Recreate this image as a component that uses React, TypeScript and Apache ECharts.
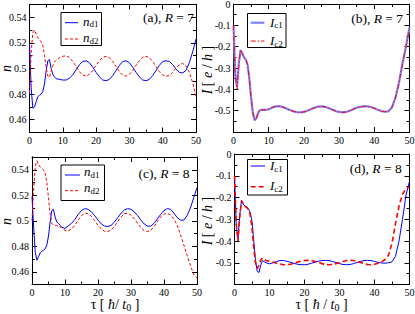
import React, { useEffect, useRef } from 'react';
import * as echarts from 'echarts';

// time axis (tau in units of hbar / t0)
const T = [0, 0.5, 1, 1.5, 2, 2.5, 3, 3.5, 4, 4.5, 5, 5.5, 6, 6.5, 7, 7.5, 8,
  9, 10, 11, 12, 13, 14, 15, 16, 17, 18, 19, 20, 21, 22, 23, 24, 25, 26, 27, 28,
  29, 30, 31, 32, 33, 34, 35, 36, 37, 38, 39, 40, 41, 42, 43, 44, 45, 46, 47, 48, 49, 50];

// (a) R = 7 occupations
const nd1_R7 = [0.519, 0.485, 0.469, 0.470, 0.474, 0.478, 0.479, 0.480, 0.482, 0.488, 0.498, 0.506, 0.507, 0.500, 0.4955, 0.4935, 0.492,
  0.4915, 0.491, 0.491, 0.4925, 0.495, 0.499, 0.503, 0.5055, 0.506, 0.5045, 0.501, 0.497, 0.4935, 0.491, 0.4905, 0.4915, 0.4945, 0.4985, 0.5025, 0.5055,
  0.506, 0.5045, 0.501, 0.497, 0.4935, 0.491, 0.4905, 0.4915, 0.4945, 0.4985, 0.5025, 0.5055, 0.506, 0.5055, 0.503, 0.4995, 0.497, 0.4965, 0.4985, 0.5045, 0.513, 0.523];
const nd2_R7 = [0.481, 0.512, 0.528, 0.530, 0.527, 0.524, 0.522, 0.521, 0.518, 0.510, 0.501, 0.494, 0.493, 0.498, 0.502, 0.505, 0.5065,
  0.5085, 0.5095, 0.510, 0.5085, 0.5055, 0.5015, 0.4975, 0.4948, 0.494, 0.4955, 0.4985, 0.5025, 0.506, 0.5088, 0.5095, 0.5085, 0.5055, 0.5015, 0.4975, 0.4948,
  0.494, 0.4955, 0.4985, 0.5025, 0.506, 0.5088, 0.5095, 0.5085, 0.5055, 0.5015, 0.4975, 0.4948, 0.494, 0.4945, 0.497, 0.5005, 0.503, 0.504, 0.502, 0.497, 0.489, 0.478];

// (b) R = 7 currents
const ic1_R7 = [-0.10, -0.33, -0.39, -0.28, -0.215, -0.232, -0.25, -0.26, -0.285, -0.35, -0.44, -0.51, -0.545, -0.535, -0.51, -0.498, -0.496,
  -0.496, -0.494, -0.485, -0.48, -0.479, -0.483, -0.49, -0.497, -0.503, -0.507, -0.508, -0.506, -0.50, -0.493, -0.486, -0.481, -0.48, -0.482, -0.488, -0.495,
  -0.502, -0.506, -0.508, -0.506, -0.50, -0.493, -0.486, -0.482, -0.48, -0.48, -0.483, -0.489, -0.496, -0.502, -0.505, -0.503, -0.485, -0.44, -0.37, -0.28, -0.20, -0.11];
const ic2_R7 = [-0.10, -0.34, -0.40, -0.29, -0.215, -0.232, -0.25, -0.26, -0.285, -0.35, -0.44, -0.51, -0.545, -0.535, -0.51, -0.498, -0.496,
  -0.496, -0.494, -0.485, -0.48, -0.479, -0.483, -0.49, -0.497, -0.503, -0.507, -0.508, -0.506, -0.50, -0.493, -0.486, -0.481, -0.48, -0.482, -0.488, -0.495,
  -0.502, -0.506, -0.508, -0.506, -0.50, -0.493, -0.486, -0.482, -0.48, -0.48, -0.483, -0.489, -0.496, -0.502, -0.505, -0.503, -0.485, -0.44, -0.37, -0.28, -0.20, -0.11];

// (c) R = 8 occupations
const nd1_R8 = [0.519, 0.495, 0.475, 0.469, 0.472, 0.475, 0.476, 0.477, 0.478, 0.481, 0.488, 0.499, 0.508, 0.509, 0.503, 0.499, 0.498,
  0.495, 0.494, 0.496, 0.498, 0.501, 0.505, 0.508, 0.5095, 0.509, 0.507, 0.504, 0.5005, 0.4975, 0.4958, 0.4955, 0.4965, 0.499, 0.5025, 0.506, 0.5085,
  0.5095, 0.509, 0.507, 0.504, 0.5005, 0.4975, 0.4958, 0.4958, 0.498, 0.5015, 0.505, 0.508, 0.5095, 0.509, 0.506, 0.5025, 0.5005, 0.5005, 0.504, 0.510, 0.518, 0.526];
const nd2_R8 = [0.500, 0.525, 0.543, 0.547, 0.544, 0.542, 0.541, 0.540, 0.537, 0.530, 0.518, 0.505, 0.498, 0.4965, 0.4965, 0.4962, 0.4958,
  0.4945, 0.4925, 0.492, 0.4935, 0.4965, 0.5005, 0.504, 0.506, 0.5055, 0.5035, 0.500, 0.4965, 0.4935, 0.4918, 0.4915, 0.4928, 0.4955, 0.4995, 0.503, 0.5055,
  0.506, 0.5045, 0.5015, 0.498, 0.4945, 0.4922, 0.4915, 0.4925, 0.4955, 0.4995, 0.503, 0.5052, 0.5058, 0.5045, 0.5015, 0.4965, 0.489, 0.481, 0.473, 0.465, 0.458, 0.455];

// (d) R = 8 currents
const ic1_R8 = [-0.10, -0.33, -0.39, -0.28, -0.213, -0.23, -0.24, -0.245, -0.252, -0.27, -0.31, -0.40, -0.49, -0.54, -0.545, -0.51, -0.49,
  -0.50, -0.505, -0.50, -0.494, -0.49, -0.49, -0.493, -0.498, -0.503, -0.507, -0.509, -0.509, -0.507, -0.502, -0.497, -0.493, -0.49, -0.489, -0.49, -0.494,
  -0.499, -0.504, -0.508, -0.509, -0.508, -0.504, -0.499, -0.494, -0.49, -0.489, -0.49, -0.494, -0.498, -0.501, -0.502, -0.50, -0.496, -0.47, -0.40, -0.30, -0.19, -0.125];
const ic2_R8 = [-0.10, -0.32, -0.40, -0.29, -0.215, -0.23, -0.24, -0.246, -0.255, -0.28, -0.34, -0.43, -0.50, -0.527, -0.51, -0.488, -0.478,
  -0.49, -0.493, -0.497, -0.502, -0.506, -0.509, -0.509, -0.507, -0.502, -0.497, -0.493, -0.49, -0.489, -0.49, -0.494, -0.499, -0.504, -0.508, -0.509, -0.508,
  -0.504, -0.499, -0.494, -0.49, -0.489, -0.49, -0.494, -0.499, -0.504, -0.508, -0.509, -0.507, -0.502, -0.496, -0.485, -0.465, -0.41, -0.32, -0.24, -0.185, -0.16, -0.15];

// tick labels
const N_LABELS = [0.46, 0.48, 0.5, 0.52, 0.54];
const N_MINOR = [0.45, 0.47, 0.49, 0.51, 0.53, 0.55];

const FONT = "'Liberation Serif', 'Times New Roman', serif";
const BLUE = '#0000ff';
const RED = '#ff0000';
const BLACK = '#000';

const GRIDS = [
  { left: 29.5, top: 4.5, width: 166.5, height: 128 },
  { left: 233.5, top: 4, width: 176, height: 128 },
  { left: 32, top: 157, width: 165, height: 127.5 },
  { left: 234.5, top: 154, width: 175, height: 130.5 },
];

const lineSty = { color: BLACK, width: 1 };

function xAxes(g: number) {
  const base: any = {
    type: 'value', gridIndex: g, min: 0, max: 50, interval: 10,
    splitLine: { show: false }, minorSplitLine: { show: false },
    axisLine: { show: true, onZero: false, lineStyle: lineSty },
    axisTick: { show: true, inside: true, length: 5, lineStyle: lineSty },
    minorTick: { show: true, splitNumber: 2, length: 3, lineStyle: lineSty },
  };
  return [
    { ...base, position: 'bottom', axisLabel: { show: true, margin: 3, fontFamily: FONT, fontSize: 10, lineHeight: 10, color: BLACK } },
    { ...base, position: 'top', axisLabel: { show: false } },
  ];
}

function nAxes(g: number) {
  const base: any = {
    type: 'value', gridIndex: g, min: 0.45, max: 0.55, interval: 0.01,
    splitLine: { show: false },
    axisLine: { show: true, onZero: false, lineStyle: lineSty },
  };
  const major = { show: true, inside: true, length: 5, lineStyle: lineSty, customValues: N_LABELS };
  const minor = { show: true, inside: true, length: 3, lineStyle: lineSty, customValues: N_MINOR };
  return [
    {
      ...base, position: 'left', axisTick: major,
      axisLabel: {
        show: true, customValues: N_LABELS, margin: 3, fontFamily: FONT, fontSize: 10, color: BLACK,
        formatter: (v: number) => String(Math.round(v * 100) / 100),
      },
    },
    { ...base, position: 'left', axisTick: minor, axisLabel: { show: false } },
    { ...base, position: 'right', axisTick: major, axisLabel: { show: false } },
    { ...base, position: 'right', axisTick: minor, axisLabel: { show: false } },
  ];
}

function iAxes(g: number) {
  const base: any = {
    type: 'value', gridIndex: g, min: -0.6, max: 0, interval: 0.1,
    splitLine: { show: false }, minorSplitLine: { show: false },
    axisLine: { show: true, onZero: false, lineStyle: lineSty },
    axisTick: { show: true, inside: true, length: 5, lineStyle: lineSty },
    minorTick: { show: true, splitNumber: 2, length: 3, lineStyle: lineSty },
  };
  return [
    {
      ...base, position: 'left',
      axisLabel: {
        show: true, showMinLabel: false, margin: 3, fontFamily: FONT, fontSize: 10, color: BLACK,
        formatter: (v: number) => String(Math.round(v * 10) / 10),
      },
    },
    { ...base, position: 'right', axisLabel: { show: false } },
  ];
}

const pairs = (ys: number[]) => T.map((t, i) => [t, ys[i]]);

function series(name: string, ys: number[], xi: number, yi: number, color: string, width: number, type: any, z: number) {
  return {
    name, type: 'line', xAxisIndex: xi, yAxisIndex: yi, data: pairs(ys),
    showSymbol: false, symbol: 'none', z,
    lineStyle: { color, width, type },
  };
}

const richBase = {
  m: { fontFamily: FONT, fontSize: 13, fontStyle: 'italic', fill: BLACK, lineHeight: 16 },
  s: { fontFamily: FONT, fontSize: 9, fill: BLACK, lineHeight: 10, padding: [6, 0, 0, 0] },
};

function legendBox(x1: number, y1: number, x2: number, y2: number, rows: any[]) {
  const els: any[] = [
    { type: 'rect', shape: { x: x1, y: y1, width: x2 - x1, height: y2 - y1 }, style: { fill: '#fff', stroke: BLACK, lineWidth: 1 }, z: 100 },
  ];
  rows.forEach((r) => {
    els.push({ type: 'line', shape: { x1: r.lx1, y1: r.ly, x2: r.lx2, y2: r.ly }, style: { stroke: r.color, lineWidth: r.width, lineDash: r.dash }, z: 101 });
    els.push({
      type: 'text', x: r.tx, y: r.ty, z: 101,
      style: { text: `{m|${r.main}}{s|${r.sub}}`, rich: richBase, align: 'left', verticalAlign: 'middle' },
    });
  });
  return els;
}

function annotation(x: number, y: number, label: string, r: string) {
  return {
    type: 'text', x, y, z: 101,
    style: {
      text: `${label}, {i|R} = ${r}`, fontFamily: FONT, fontSize: 13.5, fill: BLACK, align: 'right', verticalAlign: 'middle',
      rich: { i: { fontFamily: FONT, fontSize: 13.5, fontStyle: 'italic', fill: BLACK } },
    },
  };
}

function yName(x: number, y: number, text: string) {
  return {
    type: 'text', x, y, rotation: Math.PI / 2, z: 101,
    style: {
      text, fontFamily: FONT, fontSize: 14, fill: BLACK, align: 'center', verticalAlign: 'middle',
      rich: { i: { fontFamily: FONT, fontSize: 14, fontStyle: 'italic', fill: BLACK } },
    },
  };
}

function xName(x: number, y: number, text: string) {
  return {
    type: 'text', x, y, z: 101,
    style: {
      text, fontFamily: FONT, fontSize: 14, fill: BLACK, align: 'center', verticalAlign: 'middle',
      rich: {
        r: { fontFamily: FONT, fontSize: 14, fill: BLACK, lineHeight: 14 },
        i: { fontFamily: FONT, fontSize: 14, fontStyle: 'italic', fill: BLACK, lineHeight: 14 },
        s: { fontFamily: FONT, fontSize: 10, fill: BLACK, lineHeight: 8, padding: [6, 0, 0, 0] },
      },
    },
  };
}

const DASH_N = [3, 2];
const DASHDOT = [5, 2, 1.5, 2];
const DASH_I = [5, 3];

function buildOption() {
  const xAxis = [...xAxes(0), ...xAxes(1), ...xAxes(2), ...xAxes(3)];
  const yAxis = [...nAxes(0), ...iAxes(1), ...nAxes(2), ...iAxes(3)];
  // y index: grid0 0..3, grid1 4..5, grid2 6..9, grid3 10..11
  const seriesList = [
    series('nd1_R7', nd1_R7, 0, 0, BLUE, 1, 'solid', 3),
    series('nd2_R7', nd2_R7, 0, 0, RED, 1, DASH_N, 4),
    series('ic1_R7', ic1_R7, 2, 4, '#8080ff', 2.2, 'solid', 3),
    series('ic2_R7', ic2_R7, 2, 4, RED, 1, DASHDOT, 4),
    series('nd1_R8', nd1_R8, 4, 6, BLUE, 1, 'solid', 3),
    series('nd2_R8', nd2_R8, 4, 6, RED, 1, DASH_N, 4),
    series('ic1_R8', ic1_R8, 6, 10, BLUE, 1, 'solid', 3),
    series('ic2_R8', ic2_R8, 6, 10, RED, 1.6, DASH_I, 4),
  ];

  const graphic: any[] = [
    ...legendBox(61, 12.5, 101.5, 45.5, [
      { lx1: 65, lx2: 78, ly: 22.7, color: BLUE, width: 1, dash: null, tx: 83, ty: 21, main: 'n', sub: 'd1' },
      { lx1: 65, lx2: 78, ly: 39, color: RED, width: 1, dash: DASH_N, tx: 83, ty: 37.5, main: 'n', sub: 'd2' },
    ]),
    ...legendBox(247.5, 13.5, 286, 47.5, [
      { lx1: 250.7, lx2: 264.3, ly: 22.7, color: '#8080ff', width: 2.2, dash: null, tx: 270, ty: 22, main: 'I', sub: 'c1' },
      { lx1: 250.7, lx2: 264.3, ly: 41, color: RED, width: 1, dash: DASHDOT, tx: 270, ty: 40.5, main: 'I', sub: 'c2' },
    ]),
    ...legendBox(61, 165, 104.5, 200.5, [
      { lx1: 65, lx2: 80, ly: 175, color: BLUE, width: 1, dash: null, tx: 84, ty: 171.7, main: 'n', sub: 'd1' },
      { lx1: 65, lx2: 80, ly: 190.7, color: RED, width: 1, dash: DASH_N, tx: 84, ty: 187.7, main: 'n', sub: 'd2' },
    ]),
    ...legendBox(247.5, 159.5, 287.5, 195, [
      { lx1: 250.7, lx2: 265, ly: 166, color: BLUE, width: 1, dash: null, tx: 270, ty: 165.5, main: 'I', sub: 'c1' },
      { lx1: 250.7, lx2: 265, ly: 186.7, color: RED, width: 1.6, dash: DASH_I, tx: 270, ty: 185.5, main: 'I', sub: 'c2' },
    ]),
    annotation(194, 17.5, '(a)', '7'),
    annotation(403, 18, '(b)', '7'),
    annotation(189.5, 173.3, '(c)', '8'),
    annotation(401.7, 168.3, '(d)', '8'),
    yName(6, 68.5, '{i|n}'),
    yName(207.5, 70, '{i|I} [ {i|e} / {i|h} ]'),
    yName(6, 221.5, '{i|n}'),
    yName(207.5, 221, '{i|I} [ {i|e} / {i|h} ]'),
    xName(115, 304.5, '{r|τ [ }{i|ħ}{r|/ }{i|t}{s|0}{r| ]}'),
    xName(321.5, 304.5, '{r|τ [ }{i|ħ}{r| / }{i|t}{s|0}{r| ]}'),
  ];

  return {
    animation: false,
    backgroundColor: '#fff',
    grid: GRIDS.map((g) => ({ ...g, containLabel: false, outerBoundsMode: 'none' })),
    xAxis,
    yAxis,
    series: seriesList,
    graphic,
  };
}

export default function App() {
  const ref = useRef<HTMLDivElement>(null);
  useEffect(() => {
    if (!ref.current) return;
    const chart = echarts.init(ref.current, null, { renderer: 'svg', width: 415, height: 314 });
    chart.setOption(buildOption() as any);
    return () => chart.dispose();
  }, []);
  return (
    <div
      ref={ref}
      style={{ position: 'fixed', left: 0, top: 0, width: 415, height: 314, background: '#fff' }}
    />
  );
}
